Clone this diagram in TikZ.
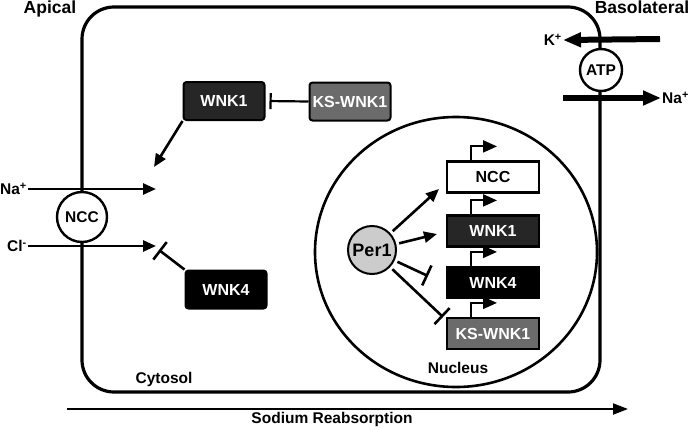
\documentclass[tikz,border=0pt]{standalone}
\usepackage{fontspec}
\setmainfont{Liberation Sans}
\usetikzlibrary{arrows.meta}
\definecolor{darkbox}{gray}{0.15}
\definecolor{ksbox}{gray}{0.42}
\definecolor{perfill}{gray}{0.8}
\tikzset{
  txt/.style={font=\bfseries\fontsize{15.5}{16}\selectfont},
  big/.style={font=\bfseries\fontsize{17.5}{18}\selectfont},
  kinase/.style={draw, line width=2pt, rounded corners=3pt, minimum width=81pt,
    minimum height=38pt, inner sep=0pt, text=white, font=\bfseries\fontsize{16}{16}\selectfont},
  gene/.style={draw, line width=2.2pt, minimum width=92pt, minimum height=31pt,
    inner sep=0pt, font=\bfseries\fontsize{16}{16}\selectfont},
  pump/.style={draw, circle, line width=2.4pt, fill=white, inner sep=0pt, txt},
  act/.style={line width=2.6pt, -{Triangle[length=13pt,width=11pt]}},
  inh/.style={line width=2.6pt, -{Bar[width=22pt]}},
  prom/.style={line width=2pt, -{Triangle[length=14pt,width=12pt]}},
  ion/.style={line width=6pt, -{Triangle[length=18pt,width=14pt]}}
}
\begin{document}
\begin{tikzpicture}[x=1pt,y=-1pt]
\useasboundingbox (0,0) rectangle (693,429);
% cell and nucleus
\draw[line width=3.2pt, rounded corners=32pt] (82,7) rectangle (600,392);
\draw[line width=2.6pt] (456,252) ellipse[x radius=141pt, y radius=135pt];
\node[big, anchor=base] (apical) at (50,13) {Apical};
\node[big, anchor=base] (baso) at (642,13) {Basolateral};
\node[txt, anchor=base] (cyto) at (164,383) {Cytosol};
\node[txt, anchor=base] (nucl) at (458,373) {Nucleus};
% transporters
\node[pump, minimum size=50pt] (ncc) at (82,217) {NCC};
\node[pump, minimum size=42pt] (atp) at (601,70) {ATP};
\node[txt, anchor=east, inner sep=1pt] (naa) at (28,189) {Na\textsuperscript{+}};
\node[txt, anchor=east, inner sep=1pt] (cla) at (28,246) {Cl\textsuperscript{-}};
\node[txt, anchor=east, inner sep=1pt] (kb) at (563,40) {K\textsuperscript{+}};
\node[txt, anchor=west, inner sep=1pt] (nab) at (661,98) {Na\textsuperscript{+}};
\coordinate (naend) at (156,189);
\coordinate (clend) at (156,246);
\coordinate (clbar) at (159,250);
\coordinate (w1tip) at (154,167);
\coordinate (k0) at (660,39);
\coordinate (na0) at (563,98);
\draw[act] (naa.east) -- (naend);
\draw[act] (cla.east) -- (clend);
\draw[ion] (k0) -- (kb.east);
\draw[ion] (na0) -- (nab.west);
% cytosol kinases
\node[kinase, fill=darkbox] (w1) at (224,101) {WNK1};
\node[kinase, fill=ksbox] (ks1) at (350,101.5) {KS-WNK1};
\node[kinase, fill=black] (w4) at (226,289.5) {WNK4};
\draw[act] (w1.south west) -- (w1tip);
\draw[inh, line width=2.2pt, -{Bar[width=16pt]}, shorten >=4pt] (ks1.west) -- (w1.east);
\draw[inh] (w4.north west) -- (clbar);
% nucleus genes
\node[gene, fill=white] (gncc) at (493,177) {NCC};
\node[gene, fill=darkbox, text=white] (gw1) at (493,231) {WNK1};
\node[gene, fill=black, text=white] (gw4) at (493,282.5) {WNK4};
\node[gene, fill=ksbox, text=white] (gks) at (493,333.5) {KS-WNK1};
\foreach \g in {gncc,gw1,gw4,gks}
  \draw[prom] ([xshift=-22pt]\g.north) -- ++(0,-14) -- ++(26,0);
\node[pump, fill=perfill, line width=2pt, minimum size=48pt,
  font=\bfseries\fontsize{18}{18}\selectfont] (p1) at (372,250) {Per1};
\coordinate (t1) at (439,189);
\coordinate (t2) at (437,234);
\coordinate (t3) at (428,276);
\coordinate (t4) at (443,317);
\draw[act, shorten <=3pt] (p1) -- (t1);
\draw[act, shorten <=3pt] (p1) -- (t2);
\draw[inh, shorten <=3pt] (p1) -- (t3);
\draw[inh, shorten <=3pt] (p1) -- (t4);
% reabsorption
\coordinate (sr0) at (67,409);
\coordinate (sr1) at (628,409);
\draw[line width=2pt, -{Triangle[length=15pt,width=11pt]}] (sr0) -- (sr1);
\node[txt, anchor=base] (sr) at (332,423) {Sodium Reabsorption};
\end{tikzpicture}
\end{document}
